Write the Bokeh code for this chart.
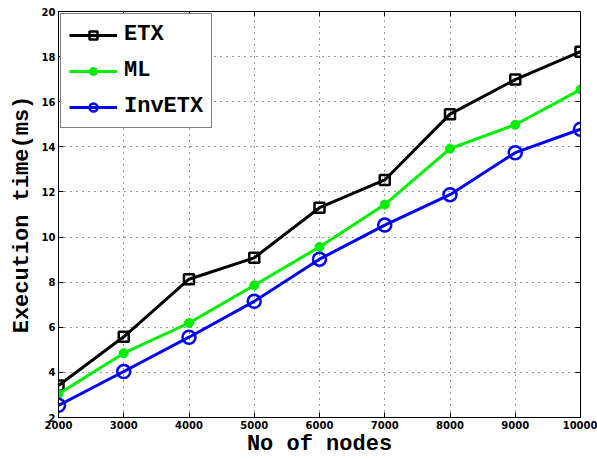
from bokeh.plotting import figure
from bokeh.models import FixedTicker, LinearAxis, Range1d, Legend, LegendItem, CustomJSTickFormatter, Grid
from bokeh.embed import file_html
from bokeh.resources import INLINE

nodes = [2000, 3000, 4000, 5000, 6000, 7000, 8000, 9000, 10000]
etx = [3.42, 5.58, 8.13, 9.08, 11.3, 12.53, 15.45, 16.98, 18.22]
ml = [3.04, 4.85, 6.19, 7.86, 9.56, 11.44, 13.92, 14.98, 16.54]
invetx = [2.54, 4.04, 5.56, 7.15, 9.02, 10.53, 11.88, 13.74, 14.78]
x_ticks = [2000, 3000, 4000, 5000, 6000, 7000, 8000, 9000, 10000]
y_ticks = [2, 4, 6, 8, 10, 12, 14, 16, 18, 20]

p = figure(width=597, height=459, output_backend="svg", toolbar_location=None,
           x_range=Range1d(2000, 10000), y_range=Range1d(2, 20),
           min_border_left=58, min_border_right=17, min_border_top=11, min_border_bottom=34)
p.outline_line_color = "black"
p.outline_line_width = 1
p.background_fill_color = "white"
p.border_fill_color = "white"
p.xgrid.visible = False
p.ygrid.visible = False

for ax, ticks in ((p.xaxis[0], x_ticks), (p.yaxis[0], y_ticks)):
    ax.ticker = FixedTicker(ticks=ticks)
    ax.major_tick_in = 5
    ax.major_tick_out = 0
    ax.major_tick_line_width = 1
    ax.minor_tick_line_color = None
    ax.axis_line_color = "black"
    ax.major_tick_line_color = "black"
    ax.major_label_text_font = "DejaVu Sans"
    ax.major_label_text_font_style = "bold"
    ax.major_label_text_font_size = "10px"
    ax.major_label_text_color = "black"
    ax.major_label_text_line_height = 0.9
    ax.axis_label_text_font = "Liberation Mono"
    ax.axis_label_text_font_style = "bold"
    ax.axis_label_text_font_size = "22px"
    ax.axis_label_text_color = "black"
    ax.axis_label_text_line_height = 0.8
    ax.axis_label_standoff = 0
    ax.major_label_standoff = 3

p.xaxis[0].axis_label = "No of nodes"
p.yaxis[0].axis_label = "Execution time(ms)"
p.yaxis[0].axis_label_standoff = 4

blank = CustomJSTickFormatter(code="return ''")
top = LinearAxis(ticker=FixedTicker(ticks=x_ticks), major_tick_in=5, major_tick_out=0,
                 minor_tick_line_color=None, formatter=blank, major_tick_line_color="black",
                 major_label_standoff=0, axis_line_color="black")
right = LinearAxis(ticker=FixedTicker(ticks=y_ticks), major_tick_in=5, major_tick_out=0,
                   minor_tick_line_color=None, formatter=blank, major_tick_line_color="black",
                   major_label_standoff=0, axis_line_color="black")
p.add_layout(top, "above")
p.add_layout(right, "right")

gx = Grid(dimension=0, ticker=FixedTicker(ticks=x_ticks[1:-1]), grid_line_color="black",
          grid_line_dash="1 5", grid_line_width=1, grid_line_alpha=0.8)
gy = Grid(dimension=1, ticker=FixedTicker(ticks=y_ticks[1:-1]), grid_line_color="black",
          grid_line_dash="1 5", grid_line_width=1, grid_line_alpha=0.8)
p.add_layout(gx)
p.add_layout(gy)

l1 = p.line(nodes, etx, line_color="black", line_width=3)
m1 = p.scatter(nodes, etx, marker="square", size=10, line_color="black", line_width=2.5, fill_alpha=0)
l2 = p.line(nodes, ml, line_color="#00ee00", line_width=3)
m2 = p.scatter(nodes, ml, marker="circle", size=9, line_color="#00ee00", fill_color="#00ee00")
l3 = p.line(nodes, invetx, line_color="blue", line_width=3)
m3 = p.scatter(nodes, invetx, marker="circle", size=13, line_color="blue", line_width=2.5, fill_alpha=0)

legend = Legend(items=[LegendItem(label="ETX", renderers=[l1, m1]),
                       LegendItem(label="ML", renderers=[l2, m2]),
                       LegendItem(label="InvETX", renderers=[l3, m3])],
                location="top_left")
legend.margin = 2
legend.padding = 8
legend.spacing = 11
legend.glyph_width = 48
legend.glyph_height = 20
legend.label_standoff = 7
legend.label_text_font = "Liberation Mono"
legend.label_text_font_style = "bold"
legend.label_text_font_size = "22px"
legend.label_text_color = "black"
legend.border_line_color = "black"
legend.border_line_width = 1
legend.background_fill_color = "white"
legend.background_fill_alpha = 1
p.add_layout(legend, "center")

open("out.html", "w").write(file_html(p, INLINE))
